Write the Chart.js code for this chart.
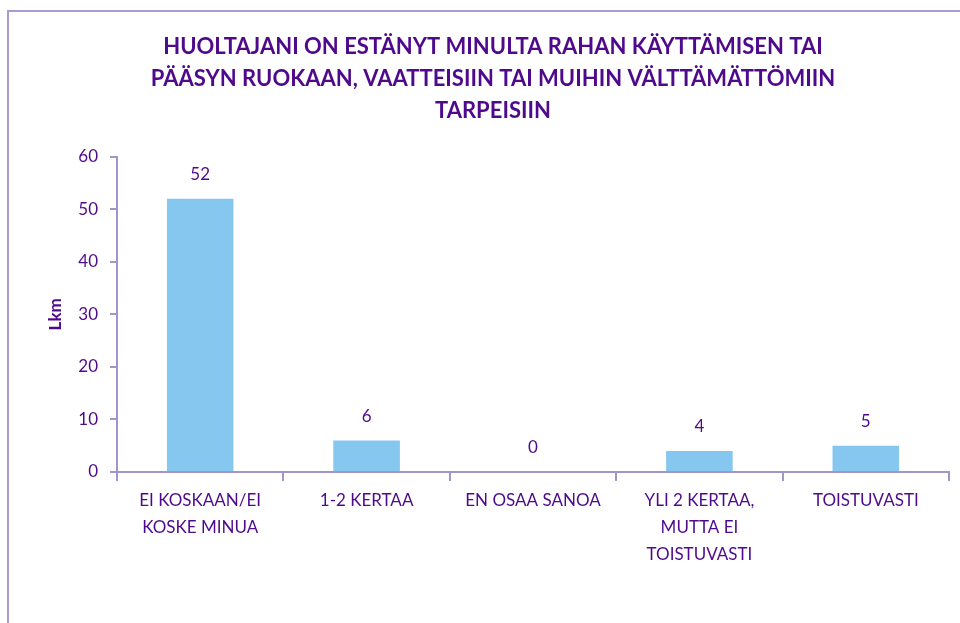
<!DOCTYPE html>
<html>
<head>
<meta charset="utf-8">
<script src="https://cdn.jsdelivr.net/npm/chart.js@4.4.1/dist/chart.umd.min.js"></script>
<style>
  html, body { margin: 0; padding: 0; background: #ffffff; overflow: hidden; }
  #wrap { position: relative; width: 960px; height: 623px; }
  #frame { position: absolute; left: 7px; top: 10px; width: 980px; height: 640px; border-left: 2px solid #a99bd0; border-top: 2px solid #a99bd0; box-sizing: border-box; pointer-events: none; }
  canvas { position: absolute; left: 0; top: 0; }
</style>
</head>
<body>
<div id="wrap">
  <canvas id="c" width="960" height="623"></canvas>
  <div id="frame"></div>
</div>
<script>
const titleLines = [
  "HUOLTAJANI ON ESTÄNYT MINULTA RAHAN KÄYTTÄMISEN TAI",
  "PÄÄSYN RUOKAAN, VAATTEISIIN TAI MUIHIN VÄLTTÄMÄTTÖMIIN",
  "TARPEISIIN"
];
const categories = [
  ["EI KOSKAAN/EI", "KOSKE MINUA"],
  "1-2 KERTAA",
  "EN OSAA SANOA",
  ["YLI 2 KERTAA,", "MUTTA EI", "TOISTUVASTI"],
  "TOISTUVASTI"
];
const values = [52, 6, 0, 4, 5];
const yTicks = [0, 10, 20, 30, 40, 50, 60];
const yAxisTitle = "Lkm";

const textColor = "#4f0a8c";
const axisColor = "#a395c6";
const barColor = "#85c7ef";
const fontFamily = "Lato, 'Open Sans', sans-serif";

const valueLabels = {
  id: "valueLabels",
  afterDatasetsDraw(chart) {
    const ctx = chart.ctx;
    const meta = chart.getDatasetMeta(0);
    ctx.save();
    ctx.fillStyle = textColor;
    ctx.font = "17px " + fontFamily;
    ctx.textAlign = "center";
    ctx.textBaseline = "middle";
    meta.data.forEach((bar, i) => {
      ctx.fillText(String(values[i]), bar.x, bar.y - 24);
    });
    ctx.restore();
  }
};

new Chart(document.getElementById("c"), {
  type: "bar",
  data: {
    labels: categories,
    datasets: [{
      data: values,
      backgroundColor: barColor,
      borderWidth: 0,
      categoryPercentage: 0.4,
      barPercentage: 1.0
    }]
  },
  options: {
    responsive: false,
    animation: false,
    devicePixelRatio: 1,
    layout: { padding: { left: 37, right: 11, top: 0, bottom: 0 } },
    plugins: {
      legend: { display: false },
      tooltip: { enabled: false },
      title: {
        display: true,
        text: titleLines,
        color: textColor,
        font: { family: fontFamily, size: 22, weight: "bold", lineHeight: 1.45 },
        padding: { top: 31, bottom: 30 }
      }
    },
    scales: {
      x: {
        offset: true,
        grid: { display: true, drawOnChartArea: false, drawTicks: true, tickLength: 9, color: axisColor, lineWidth: 2, offset: true },
        border: { display: true, color: axisColor, width: 2 },
        ticks: {
          color: textColor,
          font: { family: fontFamily, size: 17, lineHeight: 1.6 },
          padding: 6,
          maxRotation: 0,
          minRotation: 0,
          autoSkip: false
        },
        afterFit(scale) { scale.height = 151; }
      },
      y: {
        min: 0,
        max: 60,
        afterBuildTicks(scale) { scale.ticks = yTicks.map(v => ({ value: v })); },
        grid: { display: true, drawOnChartArea: false, drawTicks: true, tickLength: 7, color: axisColor, lineWidth: 2 },
        border: { display: true, color: axisColor, width: 2 },
        ticks: {
          color: textColor,
          font: { family: fontFamily, size: 17 },
          padding: 12
        },
        title: {
          display: true,
          text: yAxisTitle,
          color: textColor,
          font: { family: fontFamily, size: 17, weight: "bold" },
          padding: { top: 8, bottom: 0 }
        },
        afterFit(scale) { scale.width = 80; }
      }
    }
  },
  plugins: [valueLabels]
});
</script>
</body>
</html>
